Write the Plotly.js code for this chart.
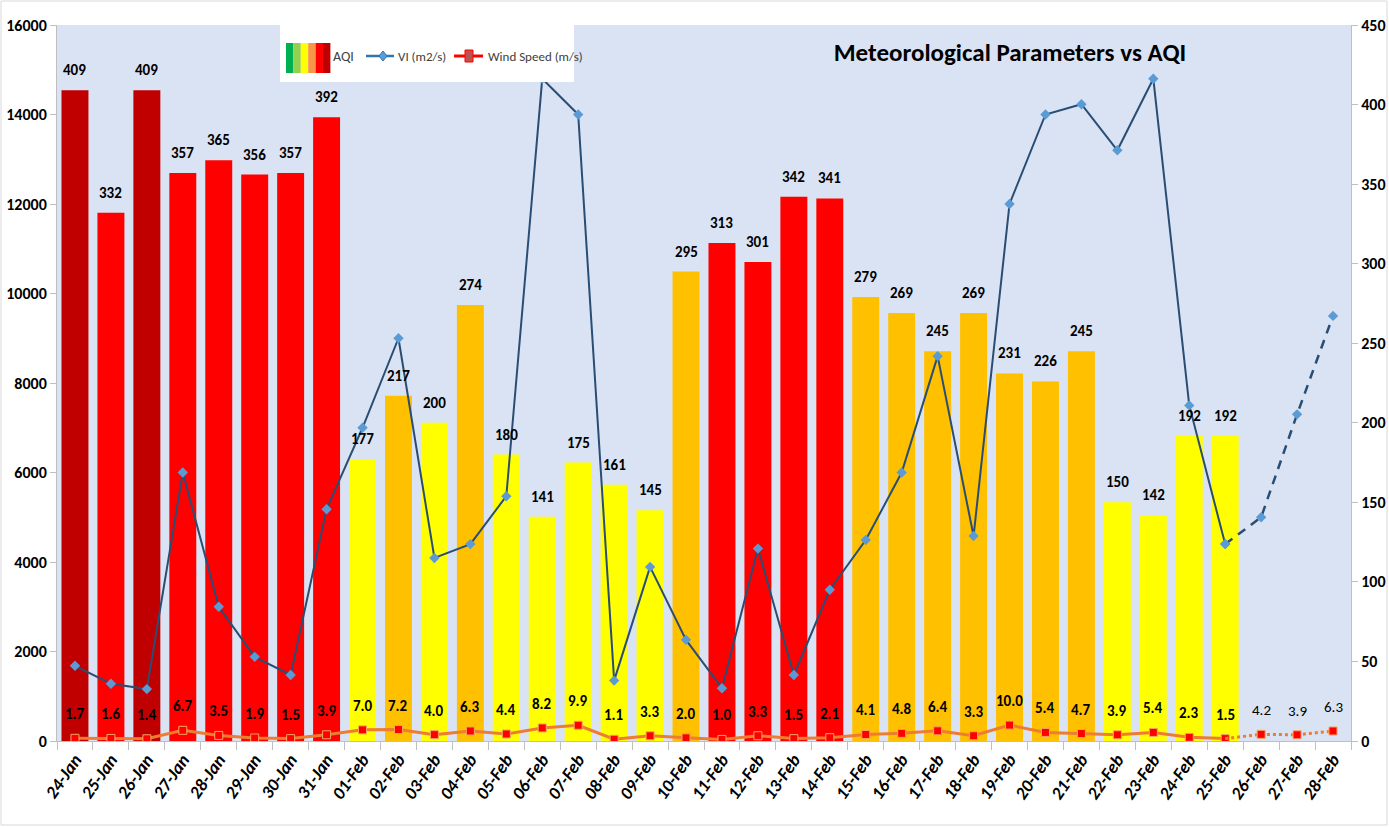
<!DOCTYPE html>
<html>
<head>
<meta charset="utf-8">
<script src="https://cdn.plot.ly/plotly-3.0.1.min.js"></script>
<style>
  html, body { margin: 0; padding: 0; background: #ffffff; }
  #chart { width: 1389px; height: 827px; }
</style>
</head>
<body>
<div id="chart"></div>
<script>
// ---------------- DATA ----------------
const categories = ['24-Jan','25-Jan','26-Jan','27-Jan','28-Jan','29-Jan','30-Jan','31-Jan',
  '01-Feb','02-Feb','03-Feb','04-Feb','05-Feb','06-Feb','07-Feb','08-Feb','09-Feb','10-Feb',
  '11-Feb','12-Feb','13-Feb','14-Feb','15-Feb','16-Feb','17-Feb','18-Feb','19-Feb','20-Feb',
  '21-Feb','22-Feb','23-Feb','24-Feb','25-Feb','26-Feb','27-Feb','28-Feb'];

const aqi = [409,332,409,357,365,356,357,392,
  177,217,200,274,180,141,175,161,145,295,313,301,342,341,279,269,245,269,231,226,245,150,142,192,192];

const vi = [1680,1280,1160,6000,3000,1880,1475,5180,
  7000,9000,4090,4400,5470,14800,14000,1350,3890,2260,1180,4300,1475,3380,4490,6000,8600,4580,
  12000,14000,14230,13200,14800,7500,4400,5000,7300,9500];

const wind = [1.7,1.6,1.4,6.7,3.5,1.9,1.5,3.9,
  7.0,7.2,4.0,6.3,4.4,8.2,9.9,1.1,3.3,2.0,1.0,3.3,1.5,2.1,4.1,4.8,6.4,3.3,10.0,5.4,4.7,3.9,5.4,2.3,1.5,
  4.2,3.9,6.3];

const lastObserved = 32;   // index of 25-Feb; later points are projections
const aqiRange = [0, 450];
const viRange = [0, 16000];

const titleText = 'Meteorological Parameters vs AQI';
const legendLabels = ['AQI', 'VI (m2/s)', 'Wind Speed (m/s)'];

// ---------------- STYLE ----------------
const FONT = "'Liberation Sans Narrow', 'Arial Narrow', Carlito, 'Open Sans', sans-serif";
const W = 1389, H = 827;
const M = { l: 57, r: 38, t: 25, b: 86 };
const PW = W - M.l - M.r, PH = H - M.t - M.b;
const px = x => (x - M.l) / PW;          // pixel -> paper x
const py = y => (H - M.b - y) / PH;      // pixel -> paper y

function aqiColor(v) {
  if (v > 400) return '#C00000';
  if (v > 300) return '#FF0000';
  if (v > 200) return '#FFC000';
  return '#FFFF00';
}

const barCats = categories.slice(0, aqi.length);
const windMarker = { symbol: 'square', size: 8, color: '#FF0000', line: { color: '#F4A460', width: 1 } };
const viMarker = { symbol: 'diamond', size: 8, color: '#5B9BD5' };

const traces = [
  {
    type: 'bar', x: barCats, y: aqi, yaxis: 'y',
    marker: { color: aqi.map(aqiColor), line: { width: 0 } },
    showlegend: false
  },
  {
    type: 'scatter', mode: 'lines+markers', x: categories.slice(0, lastObserved + 1),
    y: wind.slice(0, lastObserved + 1), yaxis: 'y',
    line: { color: '#ED7D31', width: 3 }, marker: windMarker, showlegend: false
  },
  {
    type: 'scatter', mode: 'lines', x: categories.slice(lastObserved),
    y: wind.slice(lastObserved), yaxis: 'y',
    line: { color: '#ED7D31', width: 3, dash: 'dot' }, showlegend: false
  },
  {
    type: 'scatter', mode: 'markers', x: categories.slice(lastObserved + 1),
    y: wind.slice(lastObserved + 1), yaxis: 'y',
    marker: windMarker, showlegend: false
  },
  {
    type: 'scatter', mode: 'lines+markers', x: categories.slice(0, lastObserved + 1),
    y: vi.slice(0, lastObserved + 1), yaxis: 'y2',
    line: { color: '#2A4D74', width: 2 }, marker: viMarker, showlegend: false
  },
  {
    type: 'scatter', mode: 'lines+markers', x: categories.slice(lastObserved),
    y: vi.slice(lastObserved), yaxis: 'y2',
    line: { color: '#2A4D74', width: 2.5, dash: '9px,7px' }, marker: viMarker, showlegend: false
  }
];

const annotations = [];
aqi.forEach((v, i) => {
  annotations.push({
    x: categories[i], y: v, xref: 'x', yref: 'y', yshift: 20, showarrow: false,
    text: '<b>' + v + '</b>', font: { family: FONT, size: 15, color: '#000000' }
  });
});
wind.forEach((v, i) => {
  const bold = i <= lastObserved;
  annotations.push({
    x: categories[i], y: v, xref: 'x', yref: 'y', yshift: 24, showarrow: false,
    text: bold ? '<b>' + v.toFixed(1) + '</b>' : v.toFixed(1),
    font: { family: FONT, size: 15, color: '#000000' }
  });
});

// legend texts
annotations.push({ xref: 'paper', yref: 'paper', x: px(331), y: py(57), xanchor: 'left', yanchor: 'middle',
  showarrow: false, text: legendLabels[0], font: { family: FONT, size: 14, color: '#404040' } });
annotations.push({ xref: 'paper', yref: 'paper', x: px(396), y: py(56), xanchor: 'left', yanchor: 'middle',
  showarrow: false, text: legendLabels[1], font: { family: FONT, size: 13, color: '#404040' } });
annotations.push({ xref: 'paper', yref: 'paper', x: px(486), y: py(56), xanchor: 'left', yanchor: 'middle',
  showarrow: false, text: legendLabels[2], font: { family: FONT, size: 13, color: '#404040' } });

const shapes = [];
// outer border
shapes.push({ type: 'rect', xref: 'paper', yref: 'paper', x0: px(1), x1: px(W - 2), y0: py(H - 2), y1: py(1),
  line: { color: '#D9D9D9', width: 1 }, fillcolor: 'rgba(0,0,0,0)', layer: 'below' });
// legend box
shapes.push({ type: 'rect', xref: 'paper', yref: 'paper', x0: px(280), x1: px(574), y0: py(82), y1: py(25),
  line: { width: 0 }, fillcolor: '#FFFFFF', layer: 'above' });
// AQI swatch stripes
const swatch = ['#00B050', '#92D050', '#FFFF00', '#F79646', '#FF0000', '#C00000'];
swatch.forEach((c, i) => {
  shapes.push({ type: 'rect', xref: 'paper', yref: 'paper', x0: px(286 + i * 7.4), x1: px(286 + (i + 1) * 7.4),
    y0: py(73), y1: py(43), line: { width: 0 }, fillcolor: c, layer: 'above' });
});
// VI legend sample
shapes.push({ type: 'line', xref: 'paper', yref: 'paper', x0: px(366), x1: px(394), y0: py(56), y1: py(56),
  line: { color: '#2E75B6', width: 2.5 }, layer: 'above' });
shapes.push({ type: 'path', xref: 'paper', yref: 'paper',
  path: `M ${px(383)} ${py(51)} L ${px(387)} ${py(56)} L ${px(383)} ${py(61)} L ${px(379)} ${py(56)} Z`,
  line: { color: '#2E75B6', width: 1 }, fillcolor: '#5B9BD5', layer: 'above' });
// Wind legend sample
shapes.push({ type: 'line', xref: 'paper', yref: 'paper', x0: px(454), x1: px(483), y0: py(56), y1: py(56),
  line: { color: '#FF0000', width: 3 }, layer: 'above' });
shapes.push({ type: 'rect', xref: 'paper', yref: 'paper', x0: px(465), x1: px(473), y0: py(62), y1: py(50),
  line: { color: '#FF0000', width: 1 }, fillcolor: '#C0504D', layer: 'above' });

const tickFont = { family: FONT, size: 16, color: '#000000', weight: 'bold' };

const layout = {
  width: W, height: H,
  margin: M,
  paper_bgcolor: '#FFFFFF',
  plot_bgcolor: '#DAE3F3',
  bargap: 0.25,
  showlegend: false,
  title: {
    text: '<b>' + titleText + '</b>',
    x: 1010 / W, xref: 'container', xanchor: 'center',
    y: 1 - 52 / H, yref: 'container', yanchor: 'middle',
    font: { family: FONT, size: 25, color: '#000000' }
  },
  xaxis: {
    type: 'category', categoryorder: 'array', categoryarray: categories,
    range: [-0.5, categories.length - 0.5],
    tickangle: -55,
    tickfont: { family: FONT, size: 18, color: '#000000', weight: 'bold', style: 'italic' },
    ticks: 'outside', ticklen: 8, tickcolor: '#BFBFBF', tickson: 'boundaries',
    showline: true, linecolor: '#BFBFBF', linewidth: 1,
    showgrid: false, zeroline: false, fixedrange: true
  },
  yaxis: {
    side: 'right', range: aqiRange, dtick: 50,
    tickfont: tickFont, tickformat: 'd',
    ticks: 'outside', ticklen: 6, tickcolor: '#BFBFBF',
    showline: true, linecolor: '#BFBFBF', linewidth: 1,
    showgrid: false, zeroline: false, fixedrange: true
  },
  yaxis2: {
    side: 'left', overlaying: 'y', range: viRange, dtick: 2000,
    tickfont: tickFont, tickformat: 'd',
    ticks: 'outside', ticklen: 6, tickcolor: '#BFBFBF',
    showline: true, linecolor: '#BFBFBF', linewidth: 1,
    showgrid: false, zeroline: false, fixedrange: true
  },
  annotations: annotations,
  shapes: shapes
};

Plotly.newPlot('chart', traces, layout, { displayModeBar: false, staticPlot: true });
</script>
</body>
</html>
